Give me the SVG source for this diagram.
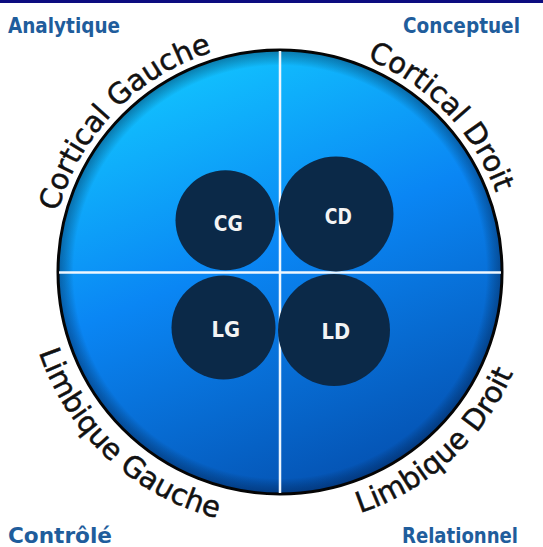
<svg xmlns="http://www.w3.org/2000/svg" width="543" height="547" viewBox="0 0 543 547">
  <defs>
    <linearGradient id="disc" x1="0.3" y1="0" x2="0.7" y2="1">
      <stop offset="0" stop-color="#12c6ff"/>
      <stop offset="0.45" stop-color="#0a86f4"/>
      <stop offset="1" stop-color="#044fae"/>
    </linearGradient>
    <radialGradient id="rim" cx="0.5" cy="0.5" r="0.5">
      <stop offset="0.93" stop-color="#000" stop-opacity="0"/>
      <stop offset="1" stop-color="#001030" stop-opacity="0.4"/>
    </radialGradient>
    <path id="arcTop" d="M 50 272 A 230 230 0 0 1 510 272"/>
    <path id="arcBot" d="M 26 272 A 254 254 0 0 0 534 272"/>
    <style>
      .corner { font-family: "DejaVu Sans Condensed", "DejaVu Sans", sans-serif; font-stretch: condensed; font-weight: bold; font-size: 21px; fill: #1f5d9c; }
      .arc { font-family: "DejaVu Sans", Verdana, sans-serif; font-size: 29px; fill: #111; stroke: #111; stroke-width: 0.5; }
      .node circle { fill: #0b2948; }
      .node text { font-family: "DejaVu Sans Condensed", "DejaVu Sans", sans-serif; font-stretch: condensed; font-weight: bold; font-size: 22px; fill: #f4f4f4; text-anchor: middle; }
      .axis { stroke: #eef7ff; stroke-width: 2.5; }
    </style>
  </defs>
  <rect width="543" height="547" fill="#ffffff"/>
  <rect x="0" y="0" width="543" height="3" fill="#0c0c80"/>

  <g id="disc-group">
    <circle cx="280" cy="272" r="222" fill="url(#disc)"/>
    <circle cx="280" cy="272" r="222" fill="url(#rim)"/>
    <circle cx="280" cy="272" r="222" fill="none" stroke="#050505" stroke-width="3"/>
  </g>

  <g id="connectors">
    <line class="axis" x1="280" y1="51" x2="280" y2="493"/>
    <line class="axis" x1="59" y1="272.5" x2="501" y2="272.5"/>
  </g>

  <g id="node-CG" class="node">
    <circle cx="225.5" cy="220.3" r="50"/>
    <text x="228.3" y="230.5" textLength="29" lengthAdjust="spacingAndGlyphs">CG</text>
  </g>
  <g id="node-CD" class="node">
    <circle cx="336" cy="214" r="57.5"/>
    <text x="338.3" y="224.3" textLength="27" lengthAdjust="spacingAndGlyphs">CD</text>
  </g>
  <g id="node-LG" class="node">
    <circle cx="223.5" cy="327.5" r="52"/>
    <text x="225.8" y="336.7" textLength="28.5" lengthAdjust="spacingAndGlyphs">LG</text>
  </g>
  <g id="node-LD" class="node">
    <circle cx="334" cy="330" r="56"/>
    <text x="335.8" y="339.3" textLength="28.5" lengthAdjust="spacingAndGlyphs">LD</text>
  </g>

  <g id="arc-labels" class="arc">
    <text text-anchor="middle"><textPath href="#arcTop" startOffset="176.6">Cortical Gauche</textPath></text>
    <text text-anchor="middle"><textPath href="#arcTop" startOffset="546">Cortical Droit</textPath></text>
    <text text-anchor="middle"><textPath href="#arcBot" startOffset="208.4">Limbique Gauche</textPath></text>
    <text text-anchor="middle"><textPath href="#arcBot" startOffset="587">Limbique Droit</textPath></text>
  </g>

  <g id="corners" class="corner">
    <text x="8" y="33" textLength="112" lengthAdjust="spacingAndGlyphs">Analytique</text>
    <text x="403" y="33" textLength="117" lengthAdjust="spacingAndGlyphs">Conceptuel</text>
    <text x="8" y="543" textLength="104" lengthAdjust="spacingAndGlyphs">Contrôlé</text>
    <text x="402" y="543" textLength="116" lengthAdjust="spacingAndGlyphs">Relationnel</text>
  </g>
</svg>
